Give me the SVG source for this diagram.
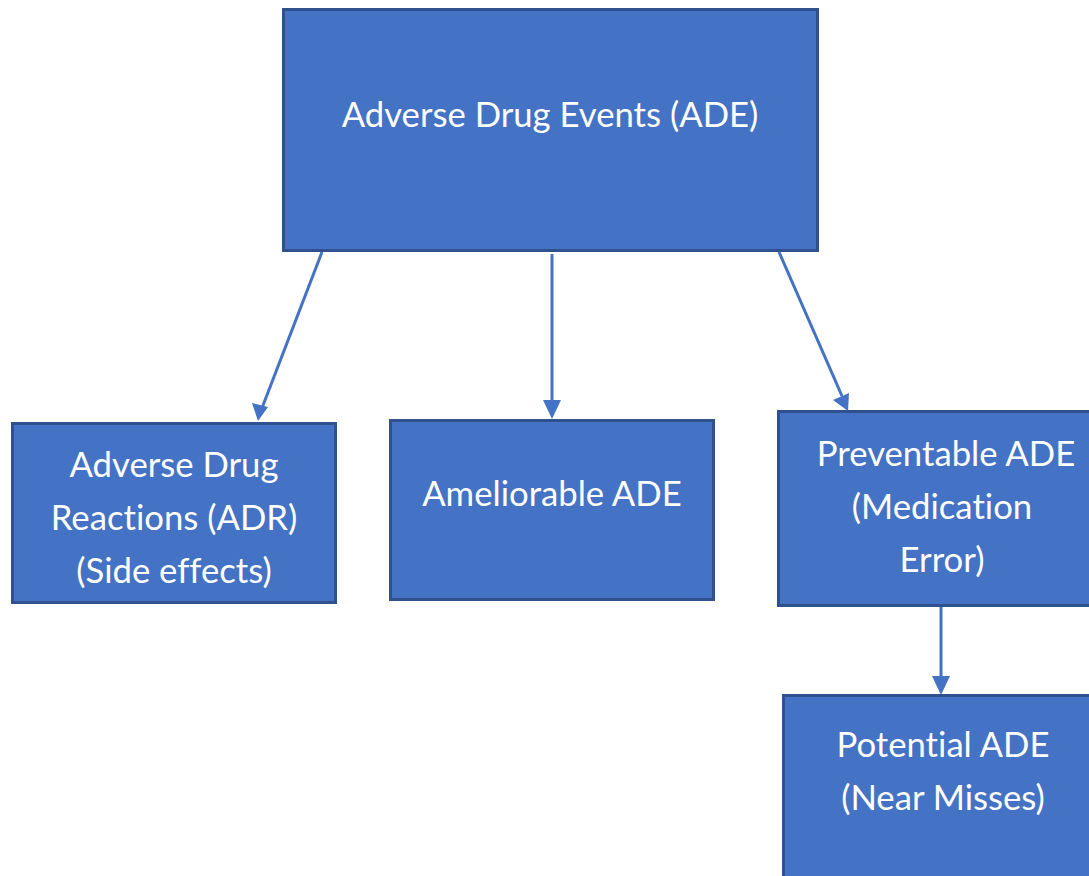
<svg xmlns="http://www.w3.org/2000/svg" width="1089" height="876" viewBox="0 0 1089 876">
<style>
.box{fill:#4472C4;stroke:#2F528F;stroke-width:3}
.lbl{fill:#ffffff;font-family:Lato,"Open Sans","Liberation Sans",sans-serif;font-size:34.7px;text-anchor:middle;font-variant-ligatures:none;font-feature-settings:"liga" 0,"dlig" 0}
.conn{stroke:#4472C4;stroke-width:3;fill:none}
.head{fill:#4472C4}
</style>
<rect width="1089" height="876" fill="#ffffff"/>
<g id="connectors">
<line class="conn" x1="322" y1="252" x2="262" y2="408"/>
<path class="head" d="M258,421 L252,403 L268,407 z"/>
<line class="conn" x1="552" y1="254" x2="552" y2="402"/>
<path class="head" d="M552,419 L543,400 L561,400 z"/>
<line class="conn" x1="779" y1="252" x2="842" y2="396"/>
<path class="head" d="M848,411 L833,400 L849,393 z"/>
<line class="conn" x1="941" y1="607" x2="941" y2="678"/>
<path class="head" d="M941,695 L932,676 L950,676 z"/>
</g>
<g id="node-ade">
<rect class="box" x="283.5" y="9.5" width="534" height="241"/>
<text class="lbl" x="550" y="127">Adverse Drug Events (ADE)</text>
</g>
<g id="node-adr">
<rect class="box" x="12.5" y="423.5" width="323" height="179"/>
<text class="lbl" x="174" y="477">Adverse Drug</text>
<text class="lbl" x="174" y="530">Reactions (ADR)</text>
<text class="lbl" x="174" y="583">(Side effects)</text>
</g>
<g id="node-ameliorable">
<rect class="box" x="390.5" y="420.5" width="323" height="179"/>
<text class="lbl" x="552" y="506">Ameliorable ADE</text>
</g>
<g id="node-preventable">
<rect class="box" x="778.5" y="411.5" width="320" height="194"/>
<text class="lbl" x="946" y="466">Preventable ADE</text>
<text class="lbl" x="942" y="519">(Medication</text>
<text class="lbl" x="942" y="572">Error)</text>
</g>
<g id="node-potential">
<rect class="box" x="783.5" y="695.5" width="320" height="200"/>
<text class="lbl" x="943" y="757">Potential ADE</text>
<text class="lbl" x="943" y="810">(Near Misses)</text>
</g>
</svg>
